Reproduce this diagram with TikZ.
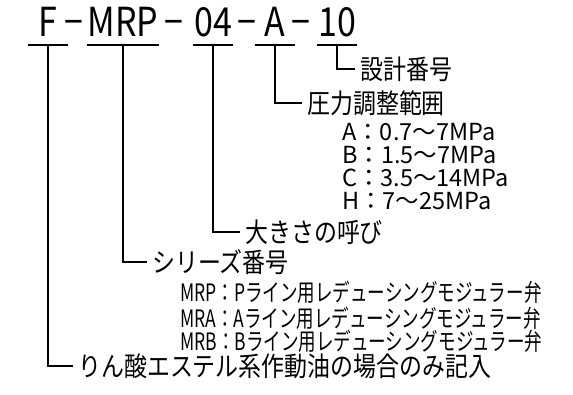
\documentclass[tikz,border=0pt]{standalone}
\usepackage{fontspec}
\newfontfamily\jpfont[FakeStretch=0.85]{Noto Sans CJK JP}
\newfontfamily\jpnarrow[FakeStretch=0.73]{Noto Sans CJK JP}
\newfontfamily\jpwide{Noto Sans CJK JP}
\usetikzlibrary{positioning}

\tikzset{
  codepart/.style={anchor=base, inner sep=0pt, minimum width=40pt, text depth=8pt,
    font=\jpfont\fontsize{40}{40}\selectfont},
  codedash/.style={anchor=base, inner sep=0pt, font=\jpfont\fontsize{40}{40}\selectfont},
  lbl/.style={anchor=west, inner xsep=5pt, inner ysep=0pt, text height=22.4pt, text depth=1.9pt,
    font=\jpfont\fontsize{27}{27}\selectfont},
  rangeitem/.style={anchor=base west, inner sep=0pt, font=\jpwide\fontsize{23.5}{23.5}\selectfont},
  seriesitem/.style={anchor=base west, inner sep=0pt, font=\jpnarrow\fontsize{24}{24}\selectfont},
  leader/.style={line width=1.8pt},
}

\begin{document}
\begin{tikzpicture}[x=1pt, y=-1pt]
\useasboundingbox (0,0) rectangle (573,395);

% model code
\node[codepart] (pf) at (48,37) {F};
\node[codedash] (d1) at (74,37) {−};
\node[codepart] (pmrp) at (123,37) {MRP};
\node[codedash] (d2) at (174,37) {−};
\node[codepart] (psize) at (213,37) {04};
\node[codedash] (d3) at (247,37) {−};
\node[codepart] (pa) at (275,37) {A};
\node[codedash] (d4) at (301,37) {−};
\node[codepart] (pten) at (337,37) {10};

% underlines
\draw[leader] (pf.south west) -- (pf.south east);
\draw[leader] (pmrp.south west) -- (pmrp.south east);
\draw[leader] (psize.south west) -- (psize.south east);
\draw[leader] (pa.south west) -- (pa.south east);
\draw[leader] (pten.south west) -- (pten.south east);

% labels
\node[lbl] (des) at (355,69) {設計番号};
\node[lbl] (prs) at (302,103) {圧力調整範囲};
\node[lbl] (siz) at (240,232) {大きさの呼び};
\node[lbl] (ser) at (147,262) {シリーズ番号};
\node[lbl] (phos) at (73,366) {りん酸エステル系作動油の場合のみ記入};

% leaders
\draw[leader] (pten.south) |- (des.west);
\draw[leader] (pa.south) |- (prs.west);
\draw[leader] (psize.south) |- (siz.west);
\draw[leader] (pmrp.south) |- (ser.west);
\draw[leader] (pf.south) |- (phos.west);

% pressure ranges
\node[rangeitem] (ra) at (342,141) {A：0.7〜7MPa};
\node[rangeitem] (rb) at (342,164) {B：1.5〜7MPa};
\node[rangeitem] (rc) at (342,187) {C：3.5〜14MPa};
\node[rangeitem] (rh) at (342,210) {H：7〜25MPa};

% series
\node[seriesitem] (smrp) at (180,302) {MRP：Pライン用レデューシングモジュラー弁};
\node[seriesitem] (smra) at (180,327) {MRA：Aライン用レデューシングモジュラー弁};
\node[seriesitem] (smrb) at (180,351) {MRB：Bライン用レデューシングモジュラー弁};
\end{tikzpicture}
\end{document}
